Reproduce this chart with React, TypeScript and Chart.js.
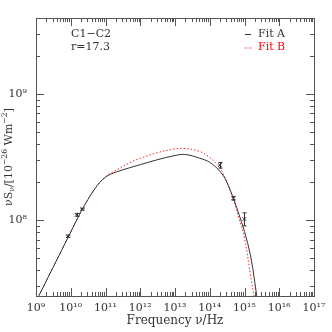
import React, { useEffect, useRef } from "react";
import { Chart, registerables } from "chart.js";

Chart.register(...registerables);

// Model curves (frequency in Hz, nu*S_nu in 1e-26 W m^-2)
const freq = [1e9, 3e9, 1e10, 2e10, 5e10, 1e11, 2e11, 5e11, 1e12, 3e12, 1e13, 2e13, 5e13, 1e14, 2e14, 3e14, 5e14, 7e14, 1e15, 1.5e15, 2e15, 2.5e15];
const fitA = [2.26e7, 4.14e7, 8.04e7, 1.175e8, 1.78e8, 2.19e8, 2.4e8, 2.6e8, 2.75e8, 3.0e8, 3.25e8, 3.31e8, 3.1e8, 2.87e8, 2.42e8, 2.04e8, 1.44e8, 1.1e8, 8.1e7, 5.2e7, 3.15e7, 2.0e7];
const fitB = [2.26e7, 4.14e7, 8.04e7, 1.175e8, 1.78e8, 2.2e8, 2.48e8, 2.85e8, 3.09e8, 3.41e8, 3.67e8, 3.69e8, 3.51e8, 3.13e8, 2.57e8, 2.04e8, 1.4e8, 1.02e8, 7.2e7, 3.6e7, 2.2e7, 1.3e7];

// Observed points
const obsX = [8.2e9, 1.48e10, 2.15e10, 1.97e14, 4.8e14, 9.9e14];
const obsY = [7.46e7, 1.1e8, 1.22e8, 2.72e8, 1.49e8, 1.02e8];
const obsLo = [7.3e7, 1.07e8, 1.2e8, 2.58e8, 1.44e8, 0.9e8];
const obsHi = [7.6e7, 1.13e8, 1.24e8, 2.86e8, 1.54e8, 1.14e8];

const xDecades = [9, 10, 11, 12, 13, 14, 15, 16, 17];
const yDecades = [8, 9];

const FONT = "'DejaVu Serif', 'Liberation Serif', serif";
const INK = "#333";
const SUP: Record<string, string> = { "0": "⁰", "1": "¹", "2": "²", "3": "³", "4": "⁴", "5": "⁵", "6": "⁶", "7": "⁷", "8": "⁸", "9": "⁹", "-": "⁻" };
const pow10Label = (e: number) => "10" + String(e).split("").map((c) => SUP[c]).join("");

type Seg = { t: string; sup?: boolean; sub?: boolean };

function drawRich(ctx: CanvasRenderingContext2D, segs: Seg[], x: number, y: number, size: number, align: "left" | "center") {
  const widths = segs.map((s) => {
    ctx.font = `${s.sup || s.sub ? size * 0.7 : size}px ${FONT}`;
    return ctx.measureText(s.t).width;
  });
  const total = widths.reduce((a, b) => a + b, 0);
  let cx = align === "center" ? x - total / 2 : x;
  ctx.textAlign = "left";
  ctx.textBaseline = "middle";
  segs.forEach((s, i) => {
    ctx.font = `${s.sup || s.sub ? size * 0.7 : size}px ${FONT}`;
    const dy = s.sup ? -size * 0.4 : s.sub ? size * 0.3 : 0;
    ctx.fillText(s.t, cx, y + dy);
    cx += widths[i];
  });
}

const framePlugin = {
  id: "framePlugin",
  afterDatasetsDraw(chart: any) {
    const ctx = chart.ctx as CanvasRenderingContext2D;
    const xs = chart.scales.x;
    const ys = chart.scales.y;
    ctx.save();
    ctx.strokeStyle = "#333";
    ctx.lineWidth = 1;
    obsX.forEach((xv, i) => {
      const px = Math.round(xs.getPixelForValue(xv)) + 0.5;
      const y1 = ys.getPixelForValue(obsLo[i]);
      const y2 = ys.getPixelForValue(obsHi[i]);
      ctx.beginPath();
      ctx.moveTo(px, y1);
      ctx.lineTo(px, y2);
      ctx.moveTo(px - 2, y1);
      ctx.lineTo(px + 2, y1);
      ctx.moveTo(px - 2, y2);
      ctx.lineTo(px + 2, y2);
      ctx.stroke();
    });
    ctx.restore();
  },
  afterDraw(chart: any) {
    const ctx = chart.ctx as CanvasRenderingContext2D;
    const { left, right, top, bottom } = chart.chartArea;
    const xs = chart.scales.x;
    const ys = chart.scales.y;
    ctx.save();
    ctx.strokeStyle = "#555";
    ctx.lineWidth = 1;
    ctx.strokeRect(Math.round(left) + 0.5, Math.round(top) + 0.5, Math.round(right - left), Math.round(bottom - top));
    ctx.beginPath();
    for (let e = 9; e < 17; e++) {
      for (let m = 1; m <= 9; m++) {
        const v = m * Math.pow(10, e);
        const px = Math.round(xs.getPixelForValue(v)) + 0.5;
        const len = m === 1 ? 8 : 4;
        ctx.moveTo(px, bottom);
        ctx.lineTo(px, bottom - len);
        ctx.moveTo(px, top);
        ctx.lineTo(px, top + len);
      }
    }
    for (let e = 7; e <= 9; e++) {
      for (let m = 1; m <= 9; m++) {
        const v = m * Math.pow(10, e);
        if (v < ys.min || v > ys.max) continue;
        const py = Math.round(ys.getPixelForValue(v)) + 0.5;
        const len = m === 1 ? 8 : 4;
        ctx.moveTo(left, py);
        ctx.lineTo(left + len, py);
        ctx.moveTo(right, py);
        ctx.lineTo(right - len, py);
      }
    }
    ctx.stroke();

    // annotations
    ctx.fillStyle = INK;
    ctx.font = `11px ${FONT}`;
    ctx.textAlign = "left";
    ctx.textBaseline = "middle";
    ctx.fillText("C1−C2", 71, 34);
    ctx.fillText("r=17.3", 71, 47);
    ctx.fillText("Fit A", 258, 34);
    ctx.beginPath();
    ctx.strokeStyle = "#333";
    ctx.moveTo(245, 34.5);
    ctx.lineTo(251, 34.5);
    ctx.stroke();
    ctx.fillStyle = "#ff0000";
    ctx.fillText("Fit B", 258, 47.5);
    ctx.beginPath();
    ctx.strokeStyle = "#ff0000";
    ctx.setLineDash([1, 1.5]);
    ctx.moveTo(245, 48);
    ctx.lineTo(251, 48);
    ctx.stroke();
    ctx.setLineDash([]);

    // axis titles
    ctx.fillStyle = INK;
    drawRich(ctx, [{ t: "Frequency ν/Hz" }], (left + right) / 2, 321, 12, "center");
    ctx.translate(9, (top + bottom) / 2);
    ctx.rotate(-Math.PI / 2);
    drawRich(
      ctx,
      [{ t: "νS" }, { t: "ν", sub: true }, { t: "/[10" }, { t: "−26", sup: true }, { t: " Wm" }, { t: "−2", sup: true }, { t: "]" }],
      0,
      0,
      11,
      "center"
    );
    ctx.restore();
  },
};

export default function App() {
  const ref = useRef<HTMLCanvasElement>(null);
  useEffect(() => {
    document.body.style.margin = "0";
    const canvas = ref.current;
    if (!canvas) return;
    const chart = new Chart(canvas, {
      type: "line",
      data: {
        datasets: [
          {
            label: "Fit A",
            data: freq.map((f, i) => ({ x: f, y: fitA[i] })),
            borderColor: "#333",
            borderWidth: 1,
            pointRadius: 0,
            tension: 0.35,
            fill: false,
          },
          {
            label: "Fit B",
            data: freq.map((f, i) => ({ x: f, y: fitB[i] })),
            borderColor: "#ff2020",
            borderWidth: 1,
            borderDash: [1.5, 2],
            pointRadius: 0,
            tension: 0.35,
            fill: false,
          },
          {
            label: "Data",
            data: obsX.map((f, i) => ({ x: f, y: obsY[i] })),
            showLine: false,
            pointStyle: "crossRot",
            pointRadius: 2.5,
            borderColor: "#222",
            borderWidth: 1,
          },
        ],
      },
      options: {
        animation: false,
        responsive: false,
        devicePixelRatio: 1,
        layout: { padding: { top: 18, right: 18, left: 0, bottom: 0 } },
        plugins: { legend: { display: false }, tooltip: { enabled: false } },
        scales: {
          x: {
            type: "logarithmic",
            min: 1e9,
            max: 1e17,
            grid: { display: false, drawTicks: false },
            border: { display: false },
            afterBuildTicks: (scale: any) => {
              scale.ticks = xDecades.map((e) => ({ value: Math.pow(10, e) }));
            },
            afterFit: (scale: any) => {
              scale.height = 36;
            },
            ticks: {
              autoSkip: false,
              maxRotation: 0,
              padding: 6,
              color: INK,
              font: { family: FONT, size: 11 },
              callback: (v: any) => pow10Label(Math.round(Math.log10(Number(v)))),
            },
          },
          y: {
            type: "logarithmic",
            min: 2.5e7,
            max: 4e9,
            grid: { display: false, drawTicks: false },
            border: { display: false },
            afterBuildTicks: (scale: any) => {
              scale.ticks = yDecades.map((e) => ({ value: Math.pow(10, e) }));
            },
            afterFit: (scale: any) => {
              scale.width = 36;
            },
            ticks: {
              autoSkip: false,
              padding: 9,
              color: INK,
              font: { family: FONT, size: 11 },
              callback: (v: any) => pow10Label(Math.round(Math.log10(Number(v)))),
            },
          },
        },
      },
      plugins: [framePlugin],
    } as any);
    return () => chart.destroy();
  }, []);
  return (
    <div style={{ width: 332, height: 332 }}>
      <canvas ref={ref} width={332} height={332} style={{ display: "block" }} />
    </div>
  );
}
